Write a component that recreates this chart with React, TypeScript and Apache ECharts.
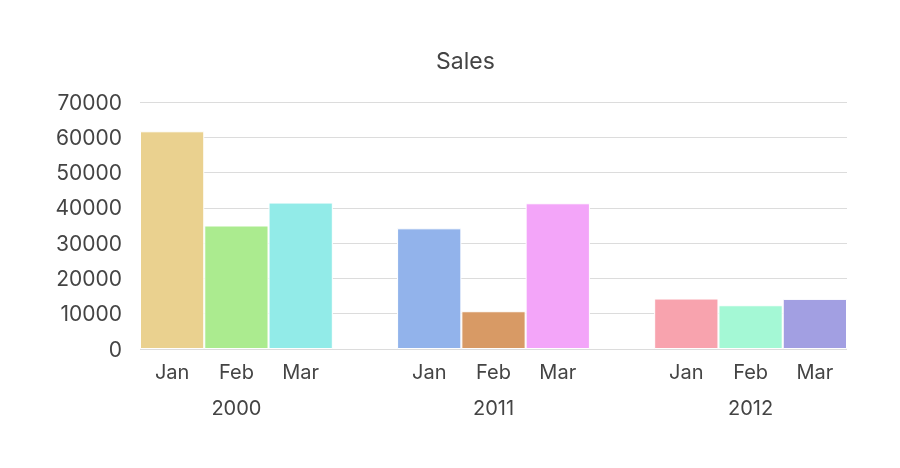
import React, { useEffect, useRef } from "react";
import * as echarts from "echarts";

const months = ["Jan", "Feb", "Mar", "", "Jan", "Feb", "Mar", "", "Jan", "Feb", "Mar"];
const years = ["", "2000", "", "", "", "2011", "", "", "", "2012", ""];
const sales: (number | string)[] = [61700, 35000, 41500, "-", 34200, 10700, 41300, "-", 14300, 12400, 14200];
const barColors = ["#EAD18F", "#ABEB8F", "#92EBE8", "", "#92B3EB", "#D89A65", "#F3A5F9", "", "#F8A3AE", "#A4F8D5", "#A29FE2"];
const yTicks = { min: 0, max: 70000, interval: 10000 };

const FONT = "Inter";

export default function App() {
  const ref = useRef<HTMLDivElement>(null);
  useEffect(() => {
    const chart = echarts.init(ref.current!, undefined, { renderer: "svg" });
    chart.setOption({
      animation: false,
      textStyle: { fontFamily: FONT },
      title: {
        text: "Sales",
        left: 431,
        top: 44,
        textStyle: { fontFamily: FONT, fontSize: 23, fontWeight: "normal", color: "#444" },
      },
      grid: { left: 140, right: 53, top: 102, bottom: 119 },
      xAxis: [
        {
          type: "category",
          data: months,
          axisLine: { show: false },
          axisTick: { show: false },
          axisLabel: { interval: 0, margin: 13, fontSize: 20, color: "#444", fontFamily: FONT },
        },
        {
          type: "category",
          data: years,
          position: "bottom",
          offset: 36,
          axisLine: { show: false },
          axisTick: { show: false },
          axisLabel: { interval: 0, margin: 13, fontSize: 20, color: "#444", fontFamily: FONT },
        },
      ],
      yAxis: {
        type: "value",
        ...yTicks,
        axisLine: { show: false },
        axisTick: { show: false },
        axisLabel: {
          margin: 18,
          fontSize: 21,
          color: "#444",
          fontFamily: FONT,
          formatter: (v: number) => String(v),
        },
        splitLine: { lineStyle: { color: "#dcdcdc", width: 1 } },
      },
      series: [
        {
          type: "bar",
          xAxisIndex: 0,
          barWidth: "100%",
          data: sales.map((v, i) => ({ value: v, itemStyle: { color: barColors[i] || "#ccc" } })),
          itemStyle: { borderColor: "#ffffff", borderWidth: 1 },
        },
      ],
    });
    return () => chart.dispose();
  }, []);
  return <div ref={ref} style={{ position: "fixed", left: 0, top: 0, width: 900, height: 468 }} />;
}
